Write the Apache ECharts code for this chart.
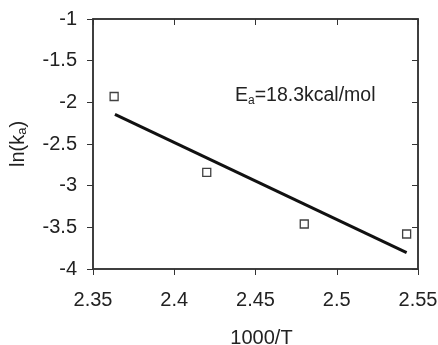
<!DOCTYPE html>
<html>
<head>
<meta charset="utf-8">
<script src="https://cdn.jsdelivr.net/npm/echarts@6/dist/echarts.min.js"></script>
<style>
  html, body { margin: 0; padding: 0; background: #fff; }
  #chart { width: 438px; height: 345px; }
</style>
</head>
<body>
<div id="chart"></div>
<script>
// measured points (1000/T, ln(ka))
const invT = [2.363, 2.420, 2.480, 2.543];
const lnKa = [-1.93, -2.84, -3.46, -3.58];
// fitted line end points
const fitX = [2.3635, 2.543];
const fitY = [-2.144, -3.804];

const fontFamily = 'Liberation Sans, Arial, sans-serif';
const axisColor = '#333';
const textColor = '#222';

const myChart = echarts.init(document.getElementById('chart'));

const baseX = {
    type: 'value',
    min: 2.35,
    max: 2.55,
    interval: 0.05,
    splitLine: { show: false },
    axisLine: { lineStyle: { color: axisColor, width: 1.5 } }
};
const baseY = {
    type: 'value',
    min: -4,
    max: -1,
    interval: 0.5,
    splitLine: { show: false },
    axisLine: { lineStyle: { color: axisColor, width: 1.5 } }
};

myChart.setOption({
    animation: false,
    backgroundColor: '#fff',
    grid: {
        left: 93,
        right: 20,
        top: 19,
        bottom: 76,
        outerBoundsMode: 'none',
        show: true,
        borderColor: axisColor,
        borderWidth: 1.5
    },
    xAxis: [
        Object.assign({}, baseX, {
            name: '1000/T',
            nameLocation: 'middle',
            nameGap: 59,
            nameTextStyle: { color: textColor, fontSize: 20, fontFamily: fontFamily, padding: [0, 0, 0, 12] },
            axisTick: { inside: false, length: 6, lineStyle: { color: axisColor } },
            axisLabel: { color: textColor, fontSize: 20, fontFamily: fontFamily, margin: 21 }
        }),
        Object.assign({}, baseX, {
            axisTick: { inside: true, length: 6, lineStyle: { color: axisColor } },
            axisLabel: { show: false }
        })
    ],
    yAxis: [
        Object.assign({}, baseY, {
            name: '{n|ln(k}{s|a}{n|)}',
            nameLocation: 'middle',
            nameGap: 64,
            nameTextStyle: {
                rich: {
                    n: { color: textColor, fontSize: 20, fontFamily: fontFamily },
                    s: { color: textColor, fontSize: 13, fontFamily: fontFamily, padding: [9, 0, 0, 0] }
                }
            },
            axisTick: { inside: false, length: 6, lineStyle: { color: axisColor } },
            axisLabel: { color: textColor, fontSize: 20, fontFamily: fontFamily, margin: 16 }
        }),
        Object.assign({}, baseY, {
            axisTick: { inside: true, length: 6, lineStyle: { color: axisColor } },
            axisLabel: { show: false }
        })
    ],
    graphic: [
        {
            type: 'text',
            left: 235,
            top: 86,
            style: {
                text: '{n|E}{s|a}{n|=18.3kcal/mol}',
                rich: {
                    n: { fill: textColor, fontSize: 19.5, fontFamily: fontFamily },
                    s: { fill: textColor, fontSize: 12, fontFamily: fontFamily, padding: [10, 0, 0, 0] }
                }
            }
        }
    ],
    series: [
        {
            name: 'fit',
            type: 'line',
            data: fitX.map((x, i) => [x, fitY[i]]),
            showSymbol: false,
            symbol: 'none',
            lineStyle: { color: '#111', width: 3 },
            z: 2
        },
        {
            name: 'data',
            type: 'scatter',
            data: invT.map((x, i) => [x, lnKa[i]]),
            symbol: 'rect',
            symbolSize: 8,
            itemStyle: { color: '#fff', borderColor: '#111', borderWidth: 1.3 },
            z: 3
        }
    ]
});
</script>
</body>
</html>
